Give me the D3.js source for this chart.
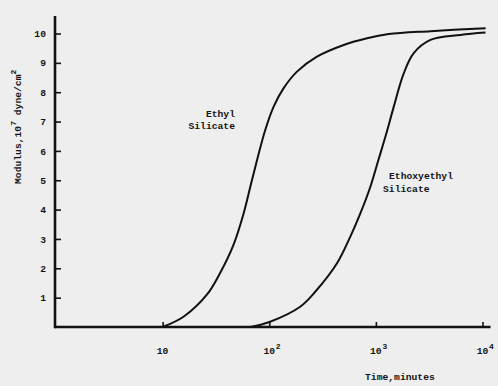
<!DOCTYPE html>
<html>
<head>
<meta charset="utf-8">
<script src="https://cdn.jsdelivr.net/npm/d3@7"></script>
<style>
  body { margin: 0; background: #eeeeee; }
  text { font-family: "Liberation Mono", "DejaVu Sans Mono", monospace; font-weight: bold; fill: #141414; }
</style>
</head>
<body>
<div id="chart"></div>
<script>
// values (time in minutes, modulus in 10^7 dyne/cm^2)
const ethylTime = [10, 15.7, 26, 34.7, 46.2, 57.4, 68.8, 91.7, 110, 136, 182, 280, 499, 827, 1319, 3250, 10700]
const ethylModulus = [0, 0.35, 1.1, 1.85, 2.8, 3.86, 5.0, 6.71, 7.51, 8.13, 8.70, 9.21, 9.61, 9.84, 9.98, 10.08, 10.18]

const ethoxyTime = [66.5, 102, 195, 270, 432, 576, 715, 888, 1056, 1255, 1470, 1825, 2265, 3250, 6210, 10670]
const ethoxyModulus = [0, 0.18, 0.69, 1.2, 2.17, 3.08, 3.87, 4.78, 5.69, 6.6, 7.5, 8.64, 9.33, 9.78, 9.95, 10.03]

const xTicks = [10, 100, 1000, 10000]
const xTickExp = ["", "2", "3", "4"]
const yTicks = [1, 2, 3, 4, 5, 6, 7, 8, 9, 10]

const width = 498, height = 386

const svg = d3.select("#chart")
    .append("svg")
    .attr("width", width)
    .attr("height", height)

svg.append("rect")
    .attr("width", width)
    .attr("height", height)
    .attr("fill", "#eeeeee")

// scales
const x = d3.scaleLog()
    .domain([1, 10000])
    .range([56, 482.5])

const y = d3.scaleLinear()
    .domain([0, 10])
    .range([327, 33.5])

// axis lines, a bit longer than the data range like in the original
svg.append("line")
    .attr("x1", x(1) - 1).attr("x2", x(11900))
    .attr("y1", y(0)).attr("y2", y(0))
    .attr("stroke", "#111").attr("stroke-width", 2.6)
svg.append("line")
    .attr("x1", x(1) - 1).attr("x2", x(1) - 1)
    .attr("y1", y(0) + 1.3).attr("y2", y(10.6))
    .attr("stroke", "#111").attr("stroke-width", 2.6)

// y axis: ticks point inward
const yAxis = svg.append("g")
    .attr("transform", "translate(" + (x(1) - 1) + ",0)")
    .call(d3.axisLeft(y).tickValues(yTicks).tickSizeInner(-6).tickSizeOuter(0).tickPadding(9))
yAxis.select(".domain").remove()
yAxis.selectAll(".tick line").attr("stroke", "#111").attr("stroke-width", 1.6)
yAxis.selectAll(".tick text")
    .attr("font-family", null)
    .style("font-size", "9.7px")

// x axis: ticks point up, labels with exponents drawn by hand
const xAxis = svg.append("g")
    .attr("transform", "translate(0," + y(0) + ")")
    .call(d3.axisBottom(x).tickValues(xTicks).tickSizeInner(-5).tickSizeOuter(0).tickFormat(""))
xAxis.select(".domain").remove()
xAxis.selectAll(".tick line").attr("stroke", "#111").attr("stroke-width", 1.6)

xTicks.forEach(function (t, i) {
    svg.append("text")
        .attr("x", x(t))
        .attr("y", 354)
        .style("font-size", "9.7px")
        .attr("text-anchor", "middle")
        .text("10")
    if (xTickExp[i]) {
        svg.append("text")
            .attr("x", x(t) + 6.5)
            .attr("y", 349)
            .style("font-size", "8px")
            .text(xTickExp[i])
    }
})

// axis titles
svg.append("text")
    .attr("x", 365)
    .attr("y", 380)
    .style("font-size", "9.7px")
    .text("Time,minutes")

const yTitle = svg.append("text")
    .attr("transform", "translate(21,184) rotate(-90)")
    .style("font-size", "9.7px")
yTitle.append("tspan").text("Modulus,10")
yTitle.append("tspan").attr("dy", -5).style("font-size", "8px").text("7")
yTitle.append("tspan").attr("dy", 5).text(" dyne/cm")
yTitle.append("tspan").attr("dy", -5).style("font-size", "8px").text("2")

// curves
const line = d3.line()
    .x(function (d) { return x(d[0]) })
    .y(function (d) { return y(d[1]) })
    .curve(d3.curveCatmullRom.alpha(0.5))

const series = [
    { time: ethylTime, modulus: ethylModulus },
    { time: ethoxyTime, modulus: ethoxyModulus }
]

series.forEach(function (s) {
    svg.append("path")
        .datum(s.time.map(function (t, i) { return [t, s.modulus[i]] }))
        .attr("d", line)
        .attr("fill", "none")
        .attr("stroke", "#111")
        .attr("stroke-width", 2)
})

// curve labels
svg.append("text")
    .attr("text-anchor", "end")
    .style("font-size", "9.7px")
    .selectAll("tspan")
    .data(["Ethyl", "Silicate"])
    .enter()
    .append("tspan")
    .attr("x", 235)
    .attr("y", function (d, i) { return 116.5 + i * 12.5 })
    .text(function (d) { return d })

svg.append("text")
    .attr("x", 389)
    .attr("y", 179)
    .style("font-size", "9.7px")
    .text("Ethoxyethyl")
svg.append("text")
    .attr("x", 383)
    .attr("y", 192)
    .style("font-size", "9.7px")
    .text("Silicate")
</script>
</body>
</html>
